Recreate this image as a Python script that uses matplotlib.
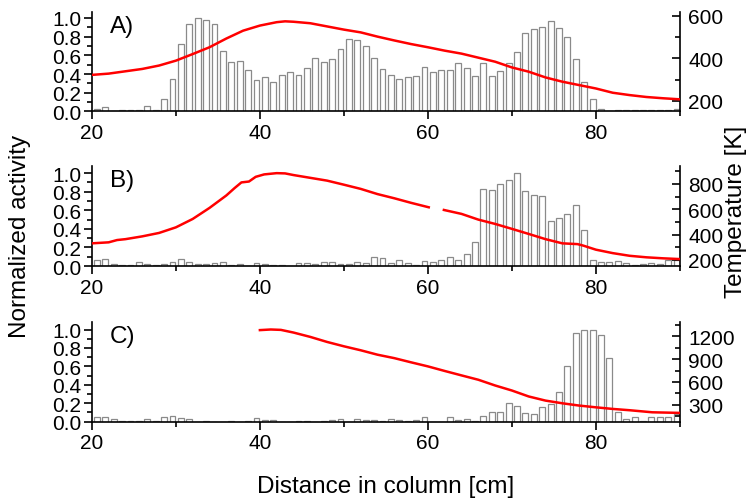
import matplotlib
matplotlib.use("Agg")
import matplotlib.pyplot as plt
import numpy as np
from matplotlib.ticker import MultipleLocator, FormatStrFormatter, FixedLocator

plt.rcParams['font.family'] = ['Liberation Sans', 'DejaVu Sans']

# bar positions (1 cm bins)
pos = 20.6 + np.arange(70)

# normalized activity, panel A
act_a = [0.03, 0.045, 0.01, 0.015, 0.015, 0.02, 0.06, 0.02, 0.135, 0.35,
         0.72, 0.93, 1.0, 0.98, 0.94, 0.65, 0.525, 0.54, 0.44, 0.34,
         0.365, 0.32, 0.39, 0.42, 0.39, 0.46, 0.57, 0.525, 0.565, 0.665,
         0.77, 0.765, 0.695, 0.57, 0.45, 0.39, 0.35, 0.37, 0.38, 0.475,
         0.42, 0.44, 0.44, 0.52, 0.465, 0.38, 0.52, 0.38, 0.43, 0.515,
         0.64, 0.84, 0.885, 0.905, 0.965, 0.895, 0.795, 0.565, 0.315, 0.13,
         0.03, 0.0, 0.02, 0.015, 0.02, 0.02, 0.02, 0.02, 0.02, 0.03]

# panel B
act_b = [0.07, 0.08, 0.02, 0.015, 0.01, 0.04, 0.02, 0.01, 0.02, 0.045,
         0.08, 0.045, 0.02, 0.02, 0.03, 0.04, 0.015, 0.02, 0.005, 0.03,
         0.02, 0.01, 0.01, 0.005, 0.03, 0.03, 0.02, 0.04, 0.04, 0.02,
         0.02, 0.04, 0.035, 0.095, 0.085, 0.03, 0.06, 0.035, 0.01, 0.05,
         0.045, 0.06, 0.095, 0.07, 0.13, 0.255, 0.83, 0.82, 0.88, 0.93,
         1.0, 0.81, 0.76, 0.75, 0.49, 0.515, 0.56, 0.66, 0.385, 0.07,
         0.045, 0.045, 0.05, 0.03, 0.01, 0.02, 0.03, 0.02, 0.06, 0.065]

# panel C
act_c = [0.047, 0.055, 0.033, 0.007, 0.004, 0.004, 0.03, 0.004, 0.055, 0.065,
         0.04, 0.025, 0.0, 0.007, 0.0, 0.0, 0.007, 0.0, 0.004, 0.044,
         0.018, 0.015, 0.0, 0.0, 0.007, 0.007, 0.0, 0.004, 0.015, 0.033,
         0.0, 0.033, 0.022, 0.015, 0.012, 0.025, 0.015, 0.004, 0.015, 0.055,
         0.0, 0.0, 0.055, 0.018, 0.025, 0.007, 0.058, 0.1, 0.1, 0.2,
         0.175, 0.09, 0.084, 0.164, 0.19, 0.32, 0.6, 0.964, 1.0, 0.99,
         0.94, 0.69, 0.11, 0.033, 0.055, 0.007, 0.055, 0.055, 0.047, 0.08]

# temperature profiles [K]
tx_a = [20, 22, 24, 26, 28, 30, 32, 34, 36, 38, 40, 42, 43, 44, 46, 48, 50,
        52, 54, 56, 58, 60, 62, 64, 66, 68, 70, 72, 74, 76, 78, 80, 82, 84,
        86, 88, 90]
temp_a = [322, 328, 339, 350, 366, 389, 420, 452, 493, 530, 554, 570, 574,
          572, 565, 550, 535, 522, 502, 484, 467, 452, 436, 422, 403, 384,
          357, 337, 310, 290, 274, 258, 238, 227, 218, 212, 207]

tx_b = [20, 22, 23, 24, 26, 28, 30, 32, 34, 36, 37, 37.8, 38.7, 39.5, 40.5,
        42, 43, 44, 46, 48, 50, 52, 54, 56, 58, 60.1, 61, 61.9, 64, 66, 68,
        70, 72, 74, 76, 77.8, 78.5, 80, 82, 84, 86, 88, 90]
temp_b = [331, 339, 357, 364, 386, 413, 457, 523, 610, 708, 767, 811, 818,
          855, 874, 884, 882, 869, 847, 825, 793, 760, 719, 686, 650, 615,
          np.nan, 594, 563, 518, 484, 445, 405, 364, 331, 325, 313, 281, 254,
          233, 221, 213, 207]

tx_c = [40, 41.3, 42.5, 44, 46, 48, 50, 52, 54, 56, 58, 60, 62, 64, 66, 68,
        70, 72, 74, 76, 78, 80, 82, 84, 86.7, 90]
temp_c = [1279, 1287, 1282, 1247, 1190, 1124, 1067, 1015, 957, 912, 857, 804,
          744, 686, 629, 554, 488, 410, 356, 321, 291, 268, 247, 230, 203, 195]

panels = [
    ("A)", act_a, tx_a, temp_a, (150, 620), [200, 400, 600], [300, 500],
     [0.122, 0.776, 0.781, 0.199], 1.068),
    ("B)", act_b, tx_b, temp_b, (152, 939), [200, 400, 600, 800],
     [300, 500, 700, 900], [0.122, 0.468, 0.781, 0.199], 1.075),
    ("C)", act_c, tx_c, temp_c, (80, 1388), [300, 600, 900, 1200],
     [150, 450, 750, 1050, 1350], [0.122, 0.158, 0.781, 0.199], 1.084),
]

fig = plt.figure(figsize=(7.53, 5.02), dpi=100)

for label, act, tx, temp, tlim, tmaj, tmin, rect, ytop in panels:
    ax = fig.add_axes(rect)
    ax.bar(pos, act, width=0.7, color='white', edgecolor='#8a8a8a',
           linewidth=0.9, zorder=2)
    ax.set_xlim(20, 90)
    ax.set_ylim(0, ytop)
    ax.xaxis.set_major_locator(FixedLocator([20, 40, 60, 80]))
    ax.xaxis.set_minor_locator(FixedLocator([30, 50, 70, 90]))
    ax.yaxis.set_major_locator(MultipleLocator(0.2))
    ax.yaxis.set_minor_locator(MultipleLocator(0.1))
    ax.yaxis.set_major_formatter(FormatStrFormatter('%.1f'))
    ax.spines['top'].set_visible(False)
    ax.spines['right'].set_visible(False)
    for s in ('left', 'bottom'):
        ax.spines[s].set_linewidth(1.2)
    ax.tick_params(axis='both', which='major', direction='out', length=5.5,
                   width=1.2, labelsize=15, pad=2)
    ax.tick_params(axis='both', which='minor', direction='out', length=3.5,
                   width=1.2)
    ax.tick_params(axis='x', pad=3)
    ax.text(0.03, 0.97, label, transform=ax.transAxes, fontsize=17.5,
            ha='left', va='top')

    ax2 = ax.twinx()
    ax2.plot(tx, temp, color='#ff0000', linewidth=1.8, zorder=3)
    ax2.set_ylim(*tlim)
    ax2.yaxis.set_major_locator(FixedLocator(tmaj))
    ax2.yaxis.set_minor_locator(FixedLocator(tmin))
    for s in ('top', 'left', 'bottom'):
        ax2.spines[s].set_visible(False)
    ax2.spines['right'].set_linewidth(1.2)
    ax2.tick_params(axis='y', which='major', direction='in', length=6,
                    width=1.2, labelsize=15, pad=6)
    ax2.tick_params(axis='y', which='minor', direction='in', length=3.5,
                    width=1.2)

fig.text(386 / 753, 1 - 487 / 502, "Distance in column [cm]", fontsize=17.5,
         ha='center', va='center')
fig.text(20 / 753, 1 - 236 / 502, "Normalized activity", fontsize=17.5,
         rotation=90, ha='center', va='center')
fig.text(736 / 753, 1 - 212 / 502, "Temperature [K]", fontsize=17.5,
         rotation=90, ha='center', va='center')

fig.savefig("out.png", dpi=100)
